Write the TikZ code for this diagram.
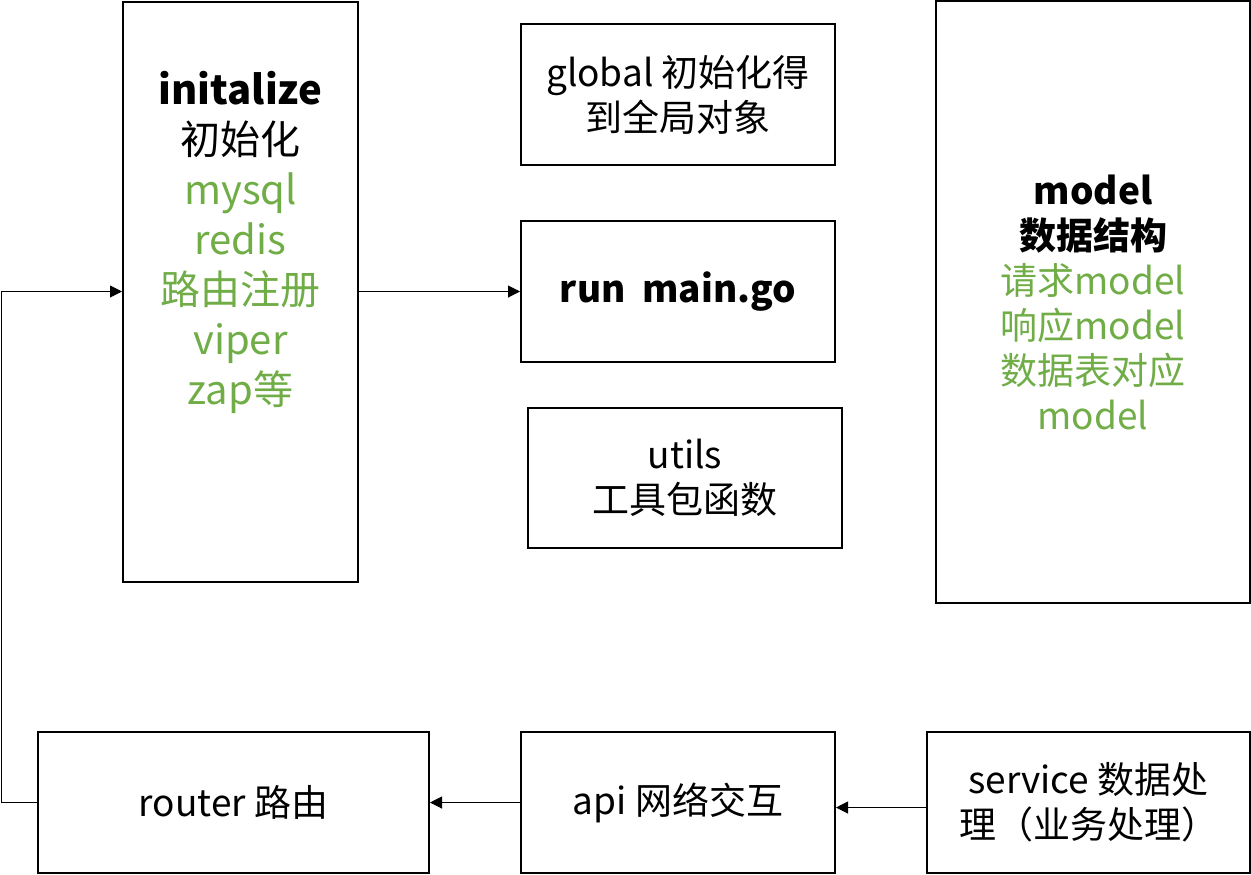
\documentclass[tikz,border=0pt]{standalone}
\usepackage{fontspec}
\setmainfont{Noto Sans CJK SC}
\usetikzlibrary{arrows.meta}
\definecolor{leafgreen}{RGB}{112,173,71}

\tikzstyle{box} = [draw,line width=1pt,inner sep=0pt]
\tikzstyle{big} = [font=\fontsize{20}{25}\selectfont,align=center]
\tikzstyle{normal} = [font=\fontsize{18.5}{22.5}\selectfont,align=center]
\tikzstyle{arrowdecorate} = [-{Triangle[length=6pt,width=6pt]},line width=0.5pt]

\begin{document}
\begin{tikzpicture}[x=0.5pt,y=-0.5pt]
      \useasboundingbox (0,0) rectangle (1251,874);
      %boxes
      \node[box, minimum width=117.5pt, minimum height=290pt] (init) at (240.5,291.5) {};
      \node[big] (initlabel) at (240.5,242) {\textbf{initalize}\\初始化\\
        \textcolor{leafgreen}{mysql}\\\textcolor{leafgreen}{redis}\\
        \textcolor{leafgreen}{路由注册}\\\textcolor{leafgreen}{viper}\\
        \textcolor{leafgreen}{zap等}};
      \node[box, normal, minimum width=157pt, minimum height=70.5pt] (global) at (678,94.5) {global 初始化得\\到全局对象};
      \node[box, normal, minimum width=157pt, minimum height=70.5pt] (run) at (678,291.5) {\textbf{run\ \ main.go}};
      \node[box, normal, minimum width=157pt, minimum height=70pt] (utils) at (685,478) {utils\\工具包函数};
      \node[box, normal, minimum width=157pt, minimum height=301pt] (model) at (1093,302) {\textbf{model}\\\textbf{数据结构}\\
        \textcolor{leafgreen}{请求model}\\\textcolor{leafgreen}{响应model}\\
        \textcolor{leafgreen}{数据表对应}\\\textcolor{leafgreen}{model}};
      \node[box, normal, minimum width=195.5pt, minimum height=70.5pt] (router) at (233.5,802.5) {router 路由};
      \node[box, normal, minimum width=157pt, minimum height=70.5pt] (api) at (678,802.5) {api 网络交互};
      \node[box, normal, minimum width=161.5pt, minimum height=70.5pt] (service) at (1088.5,802.5) {service 数据处\\理（业务处理）};
      %edges
      \draw[arrowdecorate] (init.east) -- (run.west);
      \draw[arrowdecorate] ([yshift=-2.5pt]service.west) -- ([yshift=-2.5pt]api.east);
      \draw[arrowdecorate] (api.west) -- (router.east);
      \draw[arrowdecorate] (router.west) -- ++(-36,0) |- (init.west);
    \end{tikzpicture}
\end{document}
